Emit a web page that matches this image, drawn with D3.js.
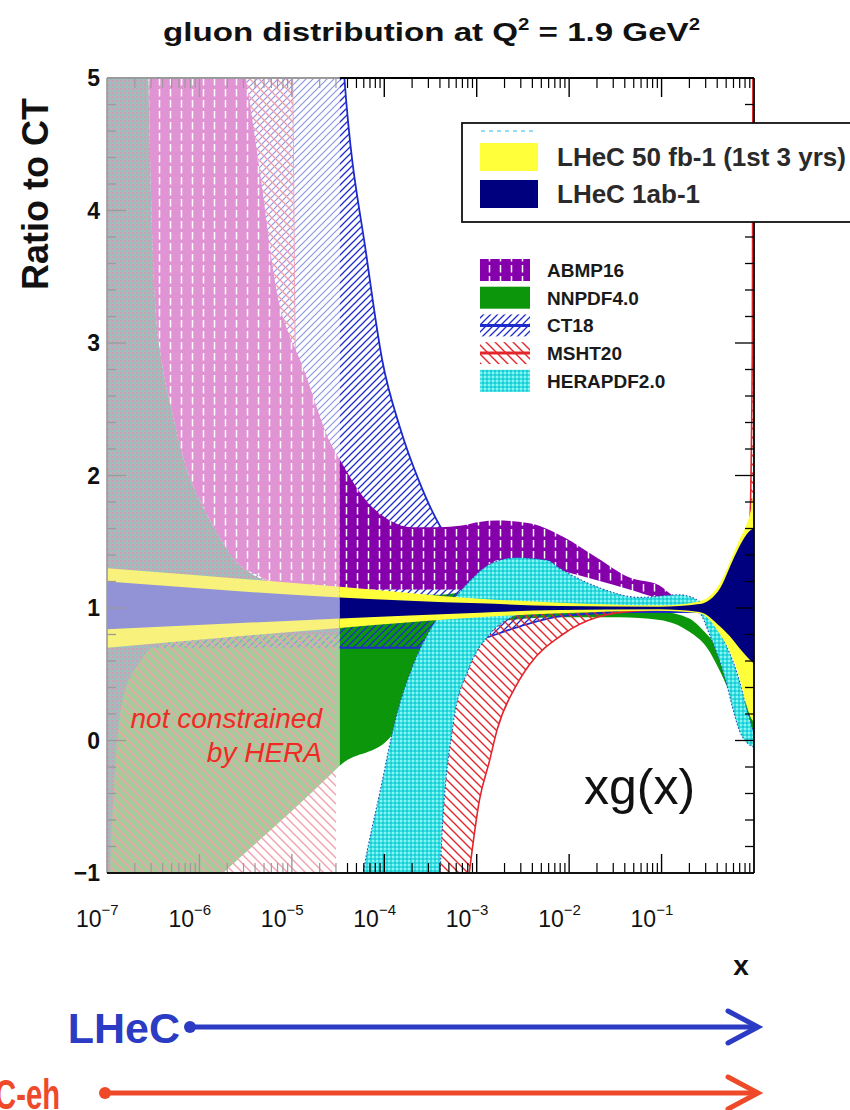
<!DOCTYPE html>
<html>
<head>
<meta charset="utf-8">
<script src="https://cdn.jsdelivr.net/npm/d3@7/dist/d3.min.js"></script>
<style>
  html, body { margin: 0; padding: 0; background: #fff; }
  svg { display: block; }
</style>
</head>
<body>
<svg id="chart" width="850" height="1110"></svg>
<script>
// ---------------- data: ratio of xg(x) to CT18 at Q^2 = 1.9 GeV^2 ----------------
// Below this x the fits are not constrained by HERA data (drawn washed out)
const heraReach = 3.3e-5;

// NNPDF4.0
const nnpdfX  = [1e-7, 1.8e-6, 2.6e-5, 3.3e-5, 1.15e-4, 1.66e-4, 2.4e-4, 4.0e-4, 8.3e-4, 1.78e-3, 7.9e-3, 0.035, 0.095, 0.2, 0.31, 0.43, 0.59, 0.79, 1.0];
const nnpdfLo = [-1.8, -1.0, -0.26, -0.19, 0.02, 0.3, 0.61, 0.72, 0.83, 0.9, 0.93, 0.93, 0.91, 0.82, 0.70, 0.52, 0.30, 0.08, -0.05];
const nnpdfHi = [1.1, 1.1, 1.1, 1.1, 1.1, 1.1, 1.1, 1.1, 1.12, 1.1, 1.06, 1.02, 0.98, 0.92, 0.80, 0.68, 0.50, 0.30, 0.2];

// CT18
const ctX  = [1e-7, 1.02e-5, 3.7e-5, 6.5e-5, 9.5e-5, 1.48e-4, 2.4e-4, 4.0e-4, 6.6e-4, 1.07e-3, 2.9e-3, 8.5e-3, 0.058, 0.257, 0.59, 0.85, 0.93, 1.0];
const ctHi = [40, 15, 5.0, 3.63, 2.87, 2.36, 1.95, 1.62, 1.42, 1.25, 1.1, 1.05, 1.03, 1.03, 1.06, 1.3, 1.6, 1.85];
const ctLo = [0.7, 0.7, 0.7, 0.7, 0.7, 0.7, 0.7, 0.7, 0.72, 0.76, 0.86, 0.94, 0.97, 0.97, 0.8, 0.62, 0.58, 0.55];

// MSHT20 (two pieces: the ratio diverges where the CT18 gluon changes sign)
const mshtAX  = [1e-7, 7.4e-6, 9.5e-6, 1.02e-5, 1.1e-5, 1.38e-5, 2.0e-5, 3.0e-5];
const mshtAHi = [40, 8, 5.6, 5.0, 2.8, 2.2, 1.6, 1.3];
const mshtALo = [-5, -5, -5, -5, -5, -5, -5, -5];
const mshtBX  = [2.9e-4, 3.1e-4, 4.0e-4, 5.5e-4, 6.6e-4, 8.3e-4, 1.07e-3, 1.38e-3, 1.66e-3, 2.7e-3, 3.7e-3, 8.5e-3, 0.02, 0.058, 0.2, 0.5, 0.79, 0.9, 0.96, 1.0];
const mshtBHi = [-1.4, -1.0, -0.5, 0.25, 0.45, 0.62, 0.78, 0.86, 0.92, 0.99, 1.03, 1.05, 1.03, 1.01, 1.01, 1.02, 1.15, 1.6, 3.0, 9.0];
const mshtBLo = [-3, -3, -3, -2.6, -1.6, -1.0, -0.45, -0.15, 0.08, 0.42, 0.57, 0.8, 0.93, 0.98, 0.99, 0.95, 0.75, 0.6, 0.55, 0.5];

// ABMP16
const abmpX  = [1e-7, 2.8e-7, 3.0e-7, 3.3e-7, 3.9e-7, 5.0e-7, 6.9e-7, 1.0e-6, 1.55e-6, 2.75e-6, 3.2e-6, 4.5e-6, 6.9e-6, 1.02e-5, 1.23e-5, 2.6e-5, 3.3e-5, 5.9e-5, 1.15e-4, 2.0e-4, 4.0e-4, 6.6e-4, 1.07e-3, 1.66e-3, 3.7e-3, 8.5e-3, 0.02, 0.045, 0.095, 0.123, 0.2, 1.0];
const abmpLo = [12, 5.0, 4.08, 3.32, 2.87, 2.5, 2.1, 1.82, 1.57, 1.32, 1.29, 1.24, 1.18, 1.16, 1.15, 1.14, 1.14, 1.14, 1.14, 1.14, 1.14, 1.14, 1.2, 1.36, 1.34, 1.28, 1.21, 1.14, 1.07, 1.05, 1.0, 0.99];
const abmpHi = [30, 20, 19, 18, 16, 14, 12, 10, 8, 5.3, 5.0, 4.3, 3.38, 3.0, 2.87, 2.25, 2.12, 1.84, 1.66, 1.61, 1.61, 1.62, 1.65, 1.66, 1.64, 1.54, 1.38, 1.23, 1.17, 1.11, 1.03, 1.01];

// HERAPDF2.0 (two pieces)
const heraAX  = [1e-7, 1.08e-7, 1.48e-7, 2.3e-7, 2.8e-7, 3.0e-7, 3.3e-7, 3.9e-7, 5.0e-7, 6.9e-7, 1.0e-6, 1.55e-6, 2.75e-6, 1.0e-5, 3.3e-5];
const heraAHi = [12, 11.6, 9.6, 6.4, 5.0, 4.08, 3.32, 2.87, 2.5, 2.1, 1.82, 1.57, 1.32, 1.15, 1.1];
const heraALo = [-5, -1.0, 0.31, 0.6, 0.68, 0.7, 0.7, 0.72, 0.75, 0.8, 0.8, 0.8, 0.8, 0.8, 0.8];
const heraBX  = [4.8e-5, 5.9e-5, 8.9e-5, 1.38e-4, 2.0e-4, 3.1e-4, 4.0e-4, 4.3e-4, 5.5e-4, 8.3e-4, 1.38e-3, 2.7e-3, 5.8e-3, 7.9e-3, 0.02, 0.058, 0.155, 0.257, 0.33, 0.5, 0.59, 0.69, 0.85, 1.0];
const heraBHi = [-1.4, -1.0, -0.4, 0.21, 0.55, 0.83, 0.95, 0.98, 1.06, 1.2, 1.33, 1.38, 1.36, 1.30, 1.16, 1.08, 1.1, 1.05, 0.98, 0.72, 0.6, 0.46, 0.22, 0.05];
const heraBLo = [-3, -3, -3, -3, -2.5, -1.6, -1.0, -0.6, 0.1, 0.55, 0.8, 0.95, 1.02, 1.03, 1.02, 1.0, 1.0, 0.96, 0.8, 0.44, 0.24, 0.08, -0.02, -0.05];

// LHeC pseudo-data projections
const lhecX     = [1e-7, 3.3e-5, 1.07e-3, 7.9e-3, 0.095, 0.257, 0.43, 0.59, 0.69, 0.82, 0.93, 1.0];
const lhec50Hi  = [1.30, 1.16, 1.07, 1.04, 1.02, 1.05, 1.19, 1.40, 1.51, 1.62, 1.75, 1.9];
const lhec50Lo  = [0.70, 0.85, 0.93, 0.96, 0.98, 0.96, 0.80, 0.62, 0.48, 0.28, 0.17, 0.14];
const lhec1abHi = [1.20, 1.08, 1.035, 1.015, 1.01, 1.03, 1.15, 1.36, 1.46, 1.55, 1.59, 1.60];
const lhec1abLo = [0.84, 0.92, 0.965, 0.985, 0.99, 0.97, 0.86, 0.76, 0.70, 0.64, 0.60, 0.58];

// axis ticks
const yMajor = [-1, 0, 1, 2, 3, 4, 5];
const yLabels = ['\u22121', '0', '1', '2', '3', '4', '5'];
const xDecades = [-7, -6, -5, -4, -3, -2, -1, 0];
const xLabelExps = ['\u22127', '\u22126', '\u22125', '\u22124', '\u22123', '\u22122', '\u22121'];

// legends
const legendTop = ['LHeC 50 fb-1 (1st 3 yrs)', 'LHeC 1ab-1'];
const legendPdf = ['ABMP16', 'NNPDF4.0', 'CT18', 'MSHT20', 'HERAPDF2.0'];

// ---------------- drawing ----------------
const FONT = "'Liberation Sans', Arial, Helvetica, sans-serif";
const svg = d3.select('#chart');
svg.append('rect').attr('width', 850).attr('height', 1110).attr('fill', '#fff');

const X0 = 107, X1 = 754, Y0 = 78, Y1 = 873;
const xs = d3.scaleLog().domain([1e-7, 1]).range([X0, X1]);
const ys = d3.scaleLinear().domain([-1, 5]).range([Y1, Y0]);
const xCut = xs(heraReach);

const defs = svg.append('defs');
function hatch(id, size, d, color, w) {
  const p = defs.append('pattern').attr('id', id).attr('patternUnits', 'userSpaceOnUse')
    .attr('width', size).attr('height', size);
  p.append('path').attr('d', d).attr('stroke', color).attr('stroke-width', w).attr('fill', 'none');
}
const slash = 'M0,7 L7,0 M-1,1 L1,-1 M6,8 L8,6';
const back = 'M0,0 L9,9 M-1,8 L1,10 M8,-1 L10,1';
hatch('ctH', 7, slash, '#1d2bcc', 1.3);
hatch('ctHF', 7, slash, '#8d96e2', 1.2);
hatch('msH', 9, back, '#e3262b', 1.4);
hatch('msHF', 9, back, '#f2a0b0', 1.4);

function dashes(id, bg) {
  const p = defs.append('pattern').attr('id', id).attr('patternUnits', 'userSpaceOnUse')
    .attr('width', 11).attr('height', 11);
  p.append('rect').attr('width', 11).attr('height', 11).attr('fill', bg);
  p.append('line').attr('x1', 5.5).attr('x2', 5.5).attr('y1', 1).attr('y2', 8.5)
    .attr('stroke', '#fff').attr('stroke-width', 1.5);
}
dashes('abH', '#8500ab');
dashes('abHF', '#e194d4');

function checker(id, a, b, c) {
  const p = defs.append('pattern').attr('id', id).attr('patternUnits', 'userSpaceOnUse')
    .attr('width', 4).attr('height', 4);
  p.append('rect').attr('width', 4).attr('height', 4).attr('fill', a);
  p.append('rect').attr('x', 0).attr('y', 0).attr('width', 2).attr('height', 2).attr('fill', b);
  p.append('rect').attr('x', 2).attr('y', 2).attr('width', 2).attr('height', 2).attr('fill', c);
}
checker('heH', '#34e2e2', '#8ef2f2', '#22c8d4');
checker('heHF', '#b2b6ba', '#c6a2b2', '#92c2be');

defs.append('clipPath').attr('id', 'clipMain').append('rect')
  .attr('x', xCut).attr('y', Y0).attr('width', X1 - xCut).attr('height', Y1 - Y0);
defs.append('clipPath').attr('id', 'clipFade').append('rect')
  .attr('x', X0).attr('y', Y0).attr('width', xCut - X0).attr('height', Y1 - Y0);

const rows = (xv, lo, hi) => xv.map((x, i) => ({ x, lo: lo[i], hi: hi[i] }));
const curve = d3.curveMonotoneX;
const area = d3.area().x(d => xs(d.x)).y0(d => ys(d.lo)).y1(d => ys(d.hi)).curve(curve);
const lineLo = d3.line().x(d => xs(d.x)).y(d => ys(d.lo)).curve(curve);
const lineHi = d3.line().x(d => xs(d.x)).y(d => ys(d.hi)).curve(curve);

const layers = [
  { d: rows(nnpdfX, nnpdfLo, nnpdfHi), fill: '#0b960b', fade: '#a6cb98' },
  { d: rows(ctX, ctLo, ctHi), fill: 'url(#ctH)', fade: 'url(#ctHF)', edge: '#1d2bcc', ew: 1.8 },
  { d: rows(mshtAX, mshtALo, mshtAHi), fill: 'url(#msH)', fade: 'url(#msHF)', fadeEdge: '#f0a4b4' },
  { d: rows(mshtBX, mshtBLo, mshtBHi), fill: 'url(#msH)', fade: 'url(#msHF)', edge: '#e3262b', ew: 1.6 },
  { d: rows(abmpX, abmpLo, abmpHi), fill: 'url(#abH)', fade: 'url(#abHF)' },
  { d: rows(heraAX, heraALo, heraAHi), fill: 'url(#heH)', fade: 'url(#heHF)' },
  { d: rows(heraBX, heraBLo, heraBHi), fill: 'url(#heH)', fade: 'url(#heHF)', edge: '#2d4ab4', ew: 1.1, dash: '1.5,2' },
  { d: rows(lhecX, lhec50Lo, lhec50Hi), fill: '#ffff3a', fade: '#f8f27c' },
  { d: rows(lhecX, lhec1abLo, lhec1abHi), fill: '#00007e', fade: '#9292d6' }
];

function drawLayers(clip, faded) {
  const g = svg.append('g').attr('clip-path', `url(#${clip})`);
  layers.forEach(L => {
    g.append('path').attr('d', area(L.d)).attr('fill', faded ? L.fade : L.fill);
    const ec = faded ? L.fadeEdge : L.edge;
    if (ec) {
      [lineLo, lineHi].forEach(fn => {
        g.append('path').attr('d', fn(L.d)).attr('fill', 'none').attr('stroke', ec)
          .attr('stroke-width', L.ew || 1).attr('stroke-dasharray', L.dash || null);
      });
    }
  });
}
drawLayers('clipFade', true);
drawLayers('clipMain', false);

// ---------------- frame and ticks ----------------
const GREY = '#9a9a9a';
const axisG = svg.append('g');
const tickColor = px => (px < xCut ? GREY : '#000');
const seg = (x1, y1, x2, y2, c, w) => axisG.append('line').attr('x1', x1).attr('y1', y1)
  .attr('x2', x2).attr('y2', y2).attr('stroke', c).attr('stroke-width', w);

// x ticks (bottom and top)
xDecades.forEach(e => {
  const px = xs(Math.pow(10, e));
  if (e > -7 && e < 0) {
    seg(px, Y1, px, Y1 - 19, tickColor(px), 1.4);
    seg(px, Y0, px, Y0 + 19, tickColor(px), 1.4);
  }
  if (e < 0) {
    d3.range(2, 10).forEach(k => {
      const mx = xs(k * Math.pow(10, e));
      seg(mx, Y1, mx, Y1 - 10, tickColor(mx), 1.2);
      seg(mx, Y0, mx, Y0 + 10, tickColor(mx), 1.2);
    });
  }
});
// y ticks (left faded, right normal)
d3.range(-1, 5.001, 0.2).forEach(v => {
  const py = ys(v);
  const major = Math.abs(v - Math.round(v)) < 1e-6;
  const len = major ? 19 : 9;
  seg(X0, py, X0 + len, py, GREY, 1.3);
  seg(X1, py, X1 - len, py, '#000', 1.3);
});
// frame
seg(X0, Y0, X0, Y1, GREY, 1.6);
seg(X0, Y0, xCut, Y0, GREY, 1.8);
seg(xCut, Y0, X1, Y0, '#000', 1.8);
seg(X0, Y1, X1, Y1, '#111', 1.8);
seg(X1, Y0, X1, Y1, '#000', 1.8);

// ---------------- tick labels ----------------
yMajor.forEach((v, i) => {
  svg.append('text').attr('x', 100).attr('y', ys(v) + 8).attr('text-anchor', 'end')
    .attr('font-family', FONT).attr('font-weight', 'bold').attr('font-size', 23)
    .attr('fill', '#111').text(yLabels[i]);
});
xLabelExps.forEach((ex, i) => {
  const px = xs(Math.pow(10, xDecades[i]));
  const t = svg.append('text').attr('x', px - 31).attr('y', 927)
    .attr('font-family', FONT).attr('font-size', 23).attr('fill', '#111');
  t.append('tspan').text('10');
  t.append('tspan').attr('dy', -12).attr('font-size', 15).text(ex);
});

// ---------------- titles ----------------
const title = svg.append('text').attr('x', 163).attr('y', 41)
  .attr('font-family', FONT).attr('font-weight', 'bold').attr('font-size', 26).attr('fill', '#111')
  .attr('textLength', 537).attr('lengthAdjust', 'spacingAndGlyphs');
title.append('tspan').text('gluon distribution at Q');
title.append('tspan').attr('dy', -11).attr('font-size', 16).text('2');
title.append('tspan').attr('dy', 11).text(' = 1.9 GeV');
title.append('tspan').attr('dy', -11).attr('font-size', 16).text('2');

svg.append('text').attr('transform', 'translate(48,98) rotate(-90)')
  .attr('text-anchor', 'end').attr('font-family', FONT).attr('font-weight', 'bold')
  .attr('font-size', 36).attr('fill', '#111').text('Ratio to CT');

svg.append('text').attr('x', 741).attr('y', 975).attr('text-anchor', 'middle')
  .attr('font-family', FONT).attr('font-weight', 'bold').attr('font-size', 28)
  .attr('fill', '#111').text('x');

svg.append('text').attr('x', 584).attr('y', 804).attr('font-family', FONT)
  .attr('font-size', 50).attr('fill', '#111').text('xg(x)');

[['not constrained', 728], ['by HERA', 762]].forEach(([s, yy]) => {
  svg.append('text').attr('x', 322).attr('y', yy).attr('text-anchor', 'end')
    .attr('font-family', FONT).attr('font-style', 'italic').attr('font-size', 28)
    .attr('fill', '#ee2b25').text(s);
});

// ---------------- legend: LHeC projections ----------------
svg.append('rect').attr('x', 462).attr('y', 123).attr('width', 420).attr('height', 99)
  .attr('fill', '#fff').attr('stroke', '#111').attr('stroke-width', 1.8);
svg.append('line').attr('x1', 481).attr('x2', 537).attr('y1', 131).attr('y2', 131)
  .attr('stroke', '#6fd0ee').attr('stroke-width', 1.5).attr('stroke-dasharray', '4,4');
[['#ffff3a', 143], ['#00007e', 180]].forEach(([c, yy], i) => {
  svg.append('rect').attr('x', 480).attr('y', yy).attr('width', 58).attr('height', 28).attr('fill', c);
  svg.append('text').attr('x', 557).attr('y', yy + 23).attr('font-family', FONT)
    .attr('font-weight', 'bold').attr('font-size', 26).attr('fill', '#2a2a2a').text(legendTop[i]);
});

// ---------------- legend: PDF fits ----------------
const pdfFill = ['url(#abH)', '#0b960b', 'url(#ctH)', 'url(#msH)', 'url(#heH)'];
const pdfLine = [null, null, '#1d2bcc', '#e3262b', null];
legendPdf.forEach((name, i) => {
  const cy = 270 + i * 27.7;
  svg.append('rect').attr('x', 480).attr('y', cy - 11).attr('width', 50).attr('height', 22)
    .attr('fill', pdfFill[i]);
  if (pdfLine[i]) {
    svg.append('line').attr('x1', 480).attr('x2', 530).attr('y1', cy).attr('y2', cy)
      .attr('stroke', pdfLine[i]).attr('stroke-width', 3);
  }
  svg.append('text').attr('x', 547).attr('y', cy + 7).attr('font-family', FONT)
    .attr('font-weight', 'bold').attr('font-size', 19).attr('fill', '#1a1a1a').text(name);
});

// ---------------- kinematic reach arrows ----------------
const reach = [
  { name: 'LHeC', color: '#2b3bc4', y: 1027, labelEnd: 180, dot: 190, squeeze: 1 },
  { name: 'FCC-eh', color: '#ee4a2a', y: 1093, labelEnd: 60, dot: 105, squeeze: 0.68 }
];
reach.forEach(r => {
  svg.append('text').attr('transform', `translate(${r.labelEnd},${r.y + 16}) scale(${r.squeeze},1)`)
    .attr('text-anchor', 'end')
    .attr('font-family', FONT).attr('font-weight', 'bold').attr('font-size', 43)
    .attr('fill', r.color).text(r.name);
  svg.append('line').attr('x1', r.dot).attr('x2', 756).attr('y1', r.y).attr('y2', r.y)
    .attr('stroke', r.color).attr('stroke-width', 5);
  svg.append('circle').attr('cx', r.dot).attr('cy', r.y).attr('r', 6).attr('fill', r.color);
  svg.append('polyline').attr('points', `728,${r.y - 16} 758,${r.y} 728,${r.y + 16}`)
    .attr('fill', 'none').attr('stroke', r.color).attr('stroke-width', 5)
    .attr('stroke-linecap', 'round').attr('stroke-linejoin', 'miter');
});
</script>
</body>
</html>
